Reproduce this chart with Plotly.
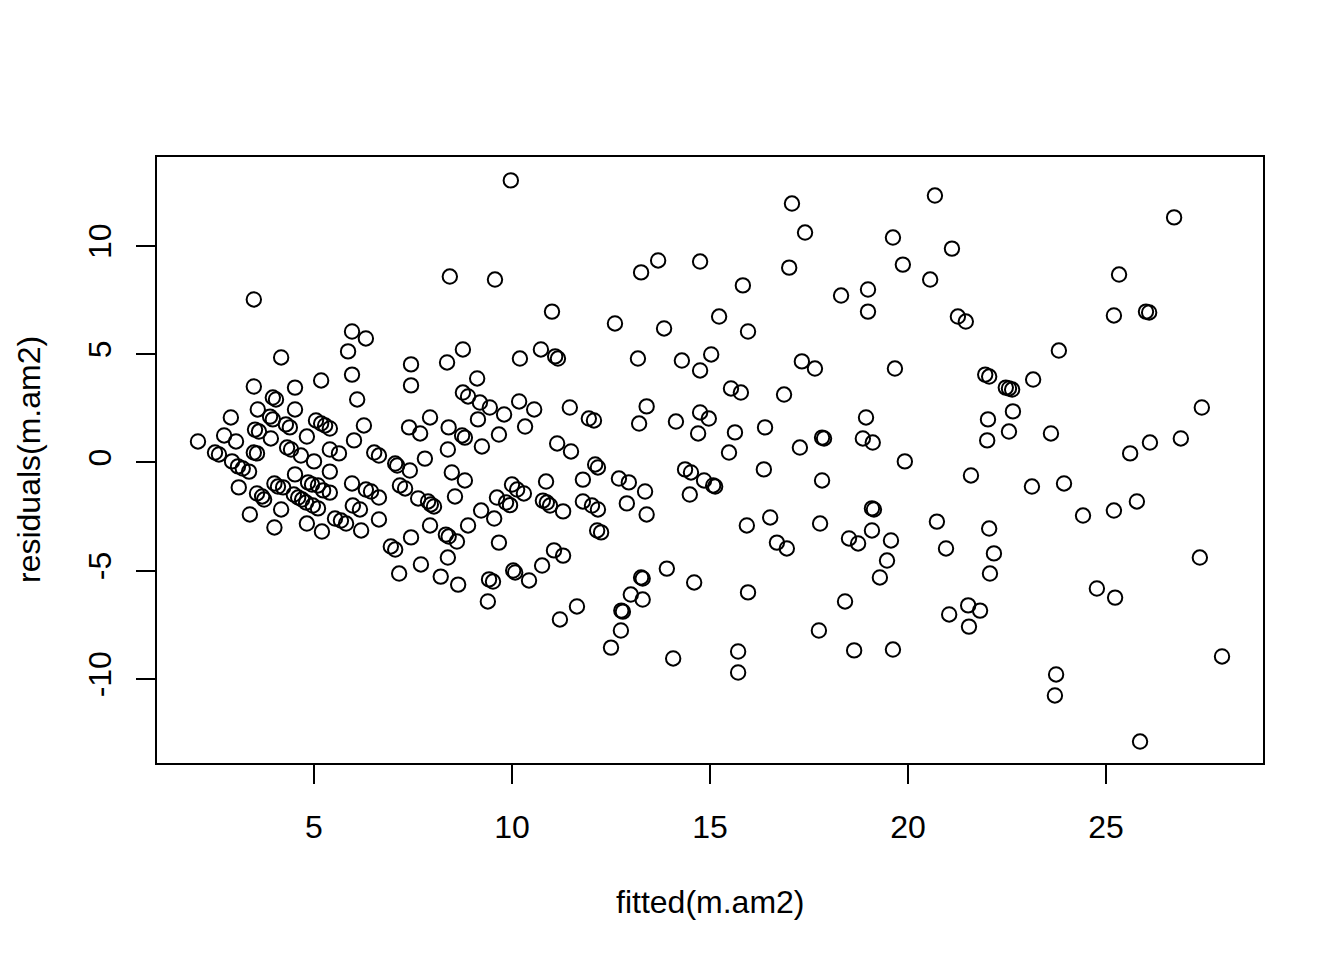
import plotly.graph_objects as go

fitted = [
    2.07, 2.50, 2.60, 2.73, 2.90, 2.93, 3.03, 3.08, 3.10, 3.20, 3.36, 3.38, 3.48, 3.48, 3.48, 3.51,
    3.56, 3.56, 3.58, 3.61, 3.69, 3.74, 3.89, 3.96, 3.91, 3.96, 4.04, 4.00, 4.00, 4.09, 4.17, 4.17,
    4.22, 4.29, 4.32, 4.39, 4.42, 4.52, 4.52, 4.52, 4.49, 4.60, 4.67, 4.70, 4.80, 4.82, 4.82, 4.85,
    4.95, 4.97, 5.00, 5.05, 5.10, 5.10, 5.18, 5.20, 5.18, 5.28, 5.40, 5.23, 5.40, 5.40, 5.40, 5.53,
    5.63, 5.68, 5.81, 5.86, 5.96, 5.96, 5.96, 5.98, 6.01, 6.09, 6.16, 6.19, 6.26, 6.31, 6.31, 6.44,
    6.52, 6.64, 6.64, 6.64, 6.94, 7.05, 7.05, 7.10, 7.15, 7.17, 7.30, 7.40, 7.42, 7.45, 7.45, 7.45,
    7.63, 7.68, 7.70, 7.80, 7.88, 7.95, 8.03, 7.93, 7.93, 8.20, 8.33, 8.40, 8.36, 8.38, 8.38, 8.40,
    8.43, 8.48, 8.56, 8.61, 8.64, 8.74, 8.81, 8.76, 8.76, 8.81, 8.89, 8.89, 9.12, 9.14, 9.19, 9.24,
    9.22, 9.39, 9.44, 9.42, 9.52, 9.55, 9.57, 9.62, 9.67, 9.67, 9.80, 9.85, 9.95, 9.97, 10.00, 10.03,
    10.08, 10.13, 10.18, 10.20, 10.30, 10.33, 10.43, 10.56, 10.73, 10.76, 10.78, 10.88, 10.86, 10.96,
    11.01, 11.06, 11.09, 11.16, 11.14, 11.21, 11.29, 11.29, 11.46, 11.49, 11.64, 11.79, 11.79, 11.94,
    12.02, 12.17, 12.07, 12.10, 12.17, 12.15, 12.25, 12.50, 12.60, 12.70, 12.76, 12.80, 12.75, 12.90,
    12.95, 13.00, 13.18, 13.21, 13.26, 13.26, 13.30, 13.30, 13.36, 13.40, 13.40, 13.69, 13.84, 13.91,
    14.07, 14.14, 14.29, 14.37, 14.49, 14.52, 14.60, 14.70, 14.75, 14.75, 14.75, 14.85, 14.97, 15.03,
    15.08, 15.13, 15.23, 15.48, 15.53, 15.63, 15.71, 15.71, 15.78, 15.83, 15.93, 15.96, 15.96, 16.36,
    16.39, 16.52, 16.69, 16.87, 16.94, 17.00, 17.07, 17.27, 17.32, 17.40, 17.65, 17.75, 17.78, 17.83,
    17.83, 17.88, 18.31, 18.41, 18.51, 18.64, 18.74, 18.86, 18.94, 18.99, 18.99, 19.09, 19.14, 19.09,
    19.11, 19.29, 19.47, 19.57, 19.62, 19.62, 19.67, 19.87, 19.92, 20.56, 20.68, 20.73, 20.96, 21.04,
    21.11, 21.26, 21.46, 21.52, 21.54, 21.59, 21.82, 21.95, 22.05, 22.00, 22.02, 22.05, 22.07, 22.17,
    22.47, 22.55, 22.63, 22.55, 22.65, 23.13, 23.16, 23.61, 23.74, 23.71, 23.81, 23.94, 24.42, 24.77,
    25.20, 25.20, 25.23, 25.33, 25.61, 25.78, 25.86, 26.01, 26.09, 26.11, 26.72, 26.89, 27.37, 27.42,
    27.93,
]

residuals = [
    0.97, 0.46, 0.37, 1.25, 2.08, 0.05, 0.97, -0.18, -1.15, -0.28, -0.42, -2.40, 7.53, 3.51, 0.46, 1.52,
    0.42, -1.43, 2.45, 1.43, -1.57, -1.71, 2.12, 1.99, 1.11, 3.00, 2.91, -3.00, -0.97, -1.11, 4.85, -2.17,
    -1.15, 1.76, 0.69, 1.62, 0.60, 3.46, 2.45, -0.55, -1.48, -1.62, 0.32, -1.71, -1.85, 1.20, -2.82, -0.92,
    -1.02, -1.99, 0.05, 1.94, -1.06, -2.12, 3.79, -3.19, 1.80, 1.71, 1.57, -1.29, -1.39, 0.60, -0.42, -2.59,
    0.42, -2.68, -2.82, 5.13, 6.05, 4.06, -0.97, -1.99, 1.02, 2.91, -2.17, -3.14, 1.71, 5.73, -1.25, -1.34,
    0.46, 0.32, -2.63, -1.62, -3.88, -4.02, -0.05, -0.14, -5.13, -1.06, -1.20, 1.62, -0.37, 3.56, 4.53, -3.46,
    -1.66, 1.34, -4.71, 0.18, -1.80, -1.94, -2.03, 2.08, -2.91, -5.27, -3.33, -3.42, 4.62, -4.39, 0.60, 1.62,
    8.59, -0.46, -1.57, -3.65, -5.64, 1.25, 1.15, 5.22, 3.23, -0.83, 3.05, -2.91, 3.88, 1.99, 2.77, 0.74,
    -2.22, -6.42, 2.54, -5.40, -5.50, -2.59, 8.45, -1.62, -3.70, 1.29, 2.22, -1.85, -1.97, 13.03, -1.02, -4.99,
    -5.08, -1.25, 2.82, 4.80, -1.43, 1.66, -5.45, 2.45, 5.22, -4.76, -1.76, -1.85, -0.88, -1.99,
    6.97, -4.06, 4.90, 4.80, 0.88, -7.25, -4.30, -2.26, 2.54, 0.51, -6.65, -0.79, -1.80, 2.03,
    -1.99, -2.17, 1.94, -0.09, -0.23, -3.14, -3.23, -8.55, 6.42, -0.74, -6.84, -6.89, -7.76, -1.89,
    -0.92, -6.10, 4.80, 1.80, 8.78, -5.31, -5.36, -6.33, -1.34, -2.40, 2.59, 9.33, 6.19, -4.90,
    -9.05, 1.89, 4.71, -0.32, -1.48, -0.46, -5.54, 1.34, 9.28, 4.25, 2.31, -0.83, 2.03, 4.99,
    -1.06, -1.11, 6.74, 0.46, 3.42, 1.39, -8.73, -9.70, 3.23, 8.18, -2.91, 6.05, -6.00, -0.32,
    1.62, -2.54, -3.70, 3.14, -3.97, 9.00, 11.96, 0.69, 4.67, 10.62, 4.34, -7.76, -2.82, -0.83,
    1.15, 1.11, 7.71, -6.42, -3.51, -8.68, -3.74, 1.11, 2.08, 7.99, 6.97, -2.12, -2.17, -3.14,
    0.92, -5.31, -4.53, -3.60, 10.39, -8.64, 4.34, 9.14, 0.05, 8.45, 12.33, -2.73, -3.97, -7.02,
    9.88, 6.74, 6.51, -6.60, -7.58, -0.60, -6.84, 4.06, 3.97, 1.02, 1.99, -3.05, -5.13, -4.20,
    3.46, 3.42, 3.37, 1.43, 2.36, -1.11, 3.83, 1.34, -9.79, -10.76, 5.17, -0.97, -2.45, -5.82,
    6.79, -2.22, -6.24, 8.68, 0.42, -1.80, -12.89, 6.97, 6.93, 0.92, 11.32, 1.11, -4.39, 2.54,
    -8.96,
]

x_ticks = [5, 10, 15, 20, 25]
y_ticks = [-10, -5, 0, 5, 10]
x_title = "fitted(m.am2)"
y_title = "residuals(m.am2)"

FONT = "Liberation Sans, Arial, Helvetica, sans-serif"

fig = go.Figure(
    go.Scatter(
        x=fitted,
        y=residuals,
        mode="markers",
        marker=dict(symbol="circle-open", size=14.4, color="black",
                    line=dict(color="black", width=2)),
        hoverinfo="x+y",
    )
)

axis_common = dict(
    showgrid=False,
    zeroline=False,
    showline=True,
    linecolor="black",
    linewidth=2,
    mirror=True,
    ticks="outside",
    ticklen=19,
    tickwidth=2,
    tickcolor="black",
    tickfont=dict(family=FONT, size=32, color="black"),
)

fig.update_xaxes(range=[1.035, 28.965], tickvals=x_ticks,
                 ticktext=[str(v) for v in x_ticks], ticklabelstandoff=16, **axis_common)
fig.update_yaxes(range=[-13.88, 14.11], tickvals=y_ticks,
                 ticktext=[str(v) for v in y_ticks], tickangle=-90,
                 ticklabelstandoff=12, **axis_common)

fig.add_annotation(text=x_title, xref="paper", yref="paper", x=0.5, y=0,
                   xanchor="center", yanchor="middle", yshift=-139, showarrow=False,
                   font=dict(family=FONT, size=32, color="black"))
fig.add_annotation(text=y_title, xref="paper", yref="paper", x=0, y=0.5,
                   xanchor="center", yanchor="middle", xshift=-128, textangle=-90,
                   showarrow=False, font=dict(family=FONT, size=32, color="black"))

# page body has an 8px default margin, so the figure is 8px smaller on each axis
fig.update_layout(
    width=1336,
    height=952,
    margin=dict(l=149, r=81, t=149, b=197),
    paper_bgcolor="white",
    plot_bgcolor="white",
    showlegend=False,
)

fig.write_html("out.html")
